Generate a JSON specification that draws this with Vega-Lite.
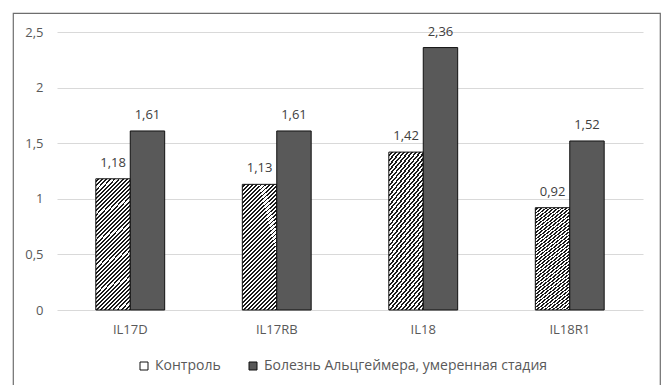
{
  "$schema": "https://vega.github.io/schema/vega-lite/v6.json",
  "width": 647,
  "height": 380,
  "padding": {"left": 13, "top": 13, "right": 6, "bottom": 0},
  "autosize": {"type": "pad"},
  "background": "#ffffff",
  "config": {
    "locale": {"number": {"decimal": ",", "thousands": " ", "grouping": [3], "currency": ["", ""]}},
    "view": {"stroke": "#6e6e6e", "strokeWidth": 1.2},
    "font": "Open Sans",
    "axis": {"labelFont": "Open Sans", "labelFontSize": 13, "labelColor": "#595959", "title": null},
    "legend": {"labelFont": "Open Sans", "labelFontSize": 14, "labelColor": "#595959", "labelLimit": 0}
  },
  "data": {
    "values": [
      {"gene": "IL17D", "group": "Контроль", "value": 1.18},
      {"gene": "IL17D", "group": "Болезнь Альцгеймера, умеренная стадия", "value": 1.61},
      {"gene": "IL17RB", "group": "Контроль", "value": 1.13},
      {"gene": "IL17RB", "group": "Болезнь Альцгеймера, умеренная стадия", "value": 1.61},
      {"gene": "IL18", "group": "Контроль", "value": 1.42},
      {"gene": "IL18", "group": "Болезнь Альцгеймера, умеренная стадия", "value": 2.36},
      {"gene": "IL18R1", "group": "Контроль", "value": 0.92},
      {"gene": "IL18R1", "group": "Болезнь Альцгеймера, умеренная стадия", "value": 1.52}
    ]
  },
  "encoding": {
    "x": {
      "field": "gene",
      "type": "nominal",
      "sort": ["IL17D", "IL17RB", "IL18", "IL18R1"],
      "scale": {"range": [44, 630], "paddingInner": 0.53, "paddingOuter": 0.265},
      "axis": {"orient": "bottom", "offset": -83, "domain": false, "ticks": false, "tickSize": 0, "labelPadding": 13, "labelAngle": 0, "grid": false}
    },
    "xOffset": {
      "field": "group",
      "type": "nominal",
      "sort": ["Контроль", "Болезнь Альцгеймера, умеренная стадия"],
      "scale": {"paddingInner": 0, "paddingOuter": 0}
    },
    "y": {
      "field": "value",
      "type": "quantitative",
      "scale": {"domain": [0, 2.5], "range": [297, 19], "nice": false, "zero": true},
      "axis": {"orient": "left", "offset": -44, "domain": false, "ticks": false, "tickSize": 0, "labelPadding": 14, "values": [0, 0.5, 1, 1.5, 2, 2.5], "format": ".1~f", "grid": true, "gridColor": "#d9d9d9", "gridWidth": 1}
    }
  },
  "layer": [
    {
      "mark": {"type": "bar", "stroke": "#111111", "strokeWidth": 1},
      "encoding": {
        "fill": {
          "field": "group",
          "type": "nominal",
          "scale": {"domain": ["Контроль", "Болезнь Альцгеймера, умеренная стадия"], "range": ["#ffffff", "#595959"]},
          "condition": {
            "test": "datum.group === 'Контроль'",
            "value": {
              "gradient": "linear", "x1": 0, "y1": 0, "x2": 0.318, "y2": 1.183,
              "stops": [
                {"offset": 0, "color": "#ffffff"}, {"offset": 0.013, "color": "#ffffff"}, {"offset": 0.013, "color": "#1a1a1a"}, {"offset": 0.025, "color": "#1a1a1a"},
                {"offset": 0.025, "color": "#ffffff"}, {"offset": 0.038, "color": "#ffffff"}, {"offset": 0.038, "color": "#1a1a1a"}, {"offset": 0.05, "color": "#1a1a1a"},
                {"offset": 0.05, "color": "#ffffff"}, {"offset": 0.063, "color": "#ffffff"}, {"offset": 0.063, "color": "#1a1a1a"}, {"offset": 0.075, "color": "#1a1a1a"},
                {"offset": 0.075, "color": "#ffffff"}, {"offset": 0.088, "color": "#ffffff"}, {"offset": 0.088, "color": "#1a1a1a"}, {"offset": 0.1, "color": "#1a1a1a"},
                {"offset": 0.1, "color": "#ffffff"}, {"offset": 0.113, "color": "#ffffff"}, {"offset": 0.113, "color": "#1a1a1a"}, {"offset": 0.125, "color": "#1a1a1a"},
                {"offset": 0.125, "color": "#ffffff"}, {"offset": 0.138, "color": "#ffffff"}, {"offset": 0.138, "color": "#1a1a1a"}, {"offset": 0.15, "color": "#1a1a1a"},
                {"offset": 0.15, "color": "#ffffff"}, {"offset": 0.163, "color": "#ffffff"}, {"offset": 0.163, "color": "#1a1a1a"}, {"offset": 0.175, "color": "#1a1a1a"},
                {"offset": 0.175, "color": "#ffffff"}, {"offset": 0.188, "color": "#ffffff"}, {"offset": 0.188, "color": "#1a1a1a"}, {"offset": 0.2, "color": "#1a1a1a"},
                {"offset": 0.2, "color": "#ffffff"}, {"offset": 0.213, "color": "#ffffff"}, {"offset": 0.213, "color": "#1a1a1a"}, {"offset": 0.225, "color": "#1a1a1a"},
                {"offset": 0.225, "color": "#ffffff"}, {"offset": 0.238, "color": "#ffffff"}, {"offset": 0.238, "color": "#1a1a1a"}, {"offset": 0.25, "color": "#1a1a1a"},
                {"offset": 0.25, "color": "#ffffff"}, {"offset": 0.263, "color": "#ffffff"}, {"offset": 0.263, "color": "#1a1a1a"}, {"offset": 0.275, "color": "#1a1a1a"},
                {"offset": 0.275, "color": "#ffffff"}, {"offset": 0.288, "color": "#ffffff"}, {"offset": 0.288, "color": "#1a1a1a"}, {"offset": 0.3, "color": "#1a1a1a"},
                {"offset": 0.3, "color": "#ffffff"}, {"offset": 0.313, "color": "#ffffff"}, {"offset": 0.313, "color": "#1a1a1a"}, {"offset": 0.325, "color": "#1a1a1a"},
                {"offset": 0.325, "color": "#ffffff"}, {"offset": 0.338, "color": "#ffffff"}, {"offset": 0.338, "color": "#1a1a1a"}, {"offset": 0.35, "color": "#1a1a1a"},
                {"offset": 0.35, "color": "#ffffff"}, {"offset": 0.363, "color": "#ffffff"}, {"offset": 0.363, "color": "#1a1a1a"}, {"offset": 0.375, "color": "#1a1a1a"},
                {"offset": 0.375, "color": "#ffffff"}, {"offset": 0.388, "color": "#ffffff"}, {"offset": 0.388, "color": "#1a1a1a"}, {"offset": 0.4, "color": "#1a1a1a"},
                {"offset": 0.4, "color": "#ffffff"}, {"offset": 0.413, "color": "#ffffff"}, {"offset": 0.413, "color": "#1a1a1a"}, {"offset": 0.425, "color": "#1a1a1a"},
                {"offset": 0.425, "color": "#ffffff"}, {"offset": 0.438, "color": "#ffffff"}, {"offset": 0.438, "color": "#1a1a1a"}, {"offset": 0.45, "color": "#1a1a1a"},
                {"offset": 0.45, "color": "#ffffff"}, {"offset": 0.463, "color": "#ffffff"}, {"offset": 0.463, "color": "#1a1a1a"}, {"offset": 0.475, "color": "#1a1a1a"},
                {"offset": 0.475, "color": "#ffffff"}, {"offset": 0.488, "color": "#ffffff"}, {"offset": 0.488, "color": "#1a1a1a"}, {"offset": 0.5, "color": "#1a1a1a"},
                {"offset": 0.5, "color": "#ffffff"}, {"offset": 0.513, "color": "#ffffff"}, {"offset": 0.513, "color": "#1a1a1a"}, {"offset": 0.525, "color": "#1a1a1a"},
                {"offset": 0.525, "color": "#ffffff"}, {"offset": 0.538, "color": "#ffffff"}, {"offset": 0.538, "color": "#1a1a1a"}, {"offset": 0.55, "color": "#1a1a1a"},
                {"offset": 0.55, "color": "#ffffff"}, {"offset": 0.563, "color": "#ffffff"}, {"offset": 0.563, "color": "#1a1a1a"}, {"offset": 0.575, "color": "#1a1a1a"},
                {"offset": 0.575, "color": "#ffffff"}, {"offset": 0.588, "color": "#ffffff"}, {"offset": 0.588, "color": "#1a1a1a"}, {"offset": 0.6, "color": "#1a1a1a"},
                {"offset": 0.6, "color": "#ffffff"}, {"offset": 0.613, "color": "#ffffff"}, {"offset": 0.613, "color": "#1a1a1a"}, {"offset": 0.625, "color": "#1a1a1a"},
                {"offset": 0.625, "color": "#ffffff"}, {"offset": 0.638, "color": "#ffffff"}, {"offset": 0.638, "color": "#1a1a1a"}, {"offset": 0.65, "color": "#1a1a1a"},
                {"offset": 0.65, "color": "#ffffff"}, {"offset": 0.663, "color": "#ffffff"}, {"offset": 0.663, "color": "#1a1a1a"}, {"offset": 0.675, "color": "#1a1a1a"},
                {"offset": 0.675, "color": "#ffffff"}, {"offset": 0.688, "color": "#ffffff"}, {"offset": 0.688, "color": "#1a1a1a"}, {"offset": 0.7, "color": "#1a1a1a"},
                {"offset": 0.7, "color": "#ffffff"}, {"offset": 0.713, "color": "#ffffff"}, {"offset": 0.713, "color": "#1a1a1a"}, {"offset": 0.725, "color": "#1a1a1a"},
                {"offset": 0.725, "color": "#ffffff"}, {"offset": 0.738, "color": "#ffffff"}, {"offset": 0.738, "color": "#1a1a1a"}, {"offset": 0.75, "color": "#1a1a1a"},
                {"offset": 0.75, "color": "#ffffff"}, {"offset": 0.763, "color": "#ffffff"}, {"offset": 0.763, "color": "#1a1a1a"}, {"offset": 0.775, "color": "#1a1a1a"},
                {"offset": 0.775, "color": "#ffffff"}, {"offset": 0.788, "color": "#ffffff"}, {"offset": 0.788, "color": "#1a1a1a"}, {"offset": 0.8, "color": "#1a1a1a"},
                {"offset": 0.8, "color": "#ffffff"}, {"offset": 0.813, "color": "#ffffff"}, {"offset": 0.813, "color": "#1a1a1a"}, {"offset": 0.825, "color": "#1a1a1a"},
                {"offset": 0.825, "color": "#ffffff"}, {"offset": 0.838, "color": "#ffffff"}, {"offset": 0.838, "color": "#1a1a1a"}, {"offset": 0.85, "color": "#1a1a1a"},
                {"offset": 0.85, "color": "#ffffff"}, {"offset": 0.863, "color": "#ffffff"}, {"offset": 0.863, "color": "#1a1a1a"}, {"offset": 0.875, "color": "#1a1a1a"},
                {"offset": 0.875, "color": "#ffffff"}, {"offset": 0.888, "color": "#ffffff"}, {"offset": 0.888, "color": "#1a1a1a"}, {"offset": 0.9, "color": "#1a1a1a"},
                {"offset": 0.9, "color": "#ffffff"}, {"offset": 0.913, "color": "#ffffff"}, {"offset": 0.913, "color": "#1a1a1a"}, {"offset": 0.925, "color": "#1a1a1a"},
                {"offset": 0.925, "color": "#ffffff"}, {"offset": 0.938, "color": "#ffffff"}, {"offset": 0.938, "color": "#1a1a1a"}, {"offset": 0.95, "color": "#1a1a1a"},
                {"offset": 0.95, "color": "#ffffff"}, {"offset": 0.963, "color": "#ffffff"}, {"offset": 0.963, "color": "#1a1a1a"}, {"offset": 0.975, "color": "#1a1a1a"},
                {"offset": 0.975, "color": "#ffffff"}, {"offset": 0.988, "color": "#ffffff"}, {"offset": 0.988, "color": "#1a1a1a"}, {"offset": 1, "color": "#1a1a1a"}
              ]
            }
          },
          "legend": {
            "orient": "none",
            "legendX": 124,
            "legendY": 346,
            "direction": "horizontal",
            "title": null,
            "symbolType": "square",
            "symbolSize": 64,
            "symbolStrokeColor": "#111111",
            "symbolStrokeWidth": 1,
            "symbolOpacity": 1,
            "columnPadding": 25,
            "labelOffset": 4,
            "encode": {
              "symbols": {
                "update": {
                  "stroke": {"value": "#111111"},
                  "strokeWidth": {"value": 1},
                  "opacity": {"value": 1},
                  "fill": [
                    {
                      "test": "datum.value === 'Контроль'",
                      "value": {
                        "gradient": "linear", "x1": 0, "y1": 1, "x2": 1, "y2": 0,
                        "stops": [
                          {"offset": 0, "color": "#ffffff"}, {"offset": 0.36, "color": "#ffffff"},
                          {"offset": 0.36, "color": "#111111"}, {"offset": 0.64, "color": "#111111"},
                          {"offset": 0.64, "color": "#ffffff"}, {"offset": 1, "color": "#ffffff"}
                        ]
                      }
                    },
                    {"value": "#595959"}
                  ]
                }
              }
            }
          }
        }
      }
    },
    {
      "mark": {"type": "text", "align": "center", "baseline": "alphabetic", "dy": -12, "fontSize": 13, "font": "Open Sans", "color": "#404040"},
      "encoding": {
        "text": {"field": "value", "type": "quantitative", "format": ".2f"}
      }
    }
  ]
}
